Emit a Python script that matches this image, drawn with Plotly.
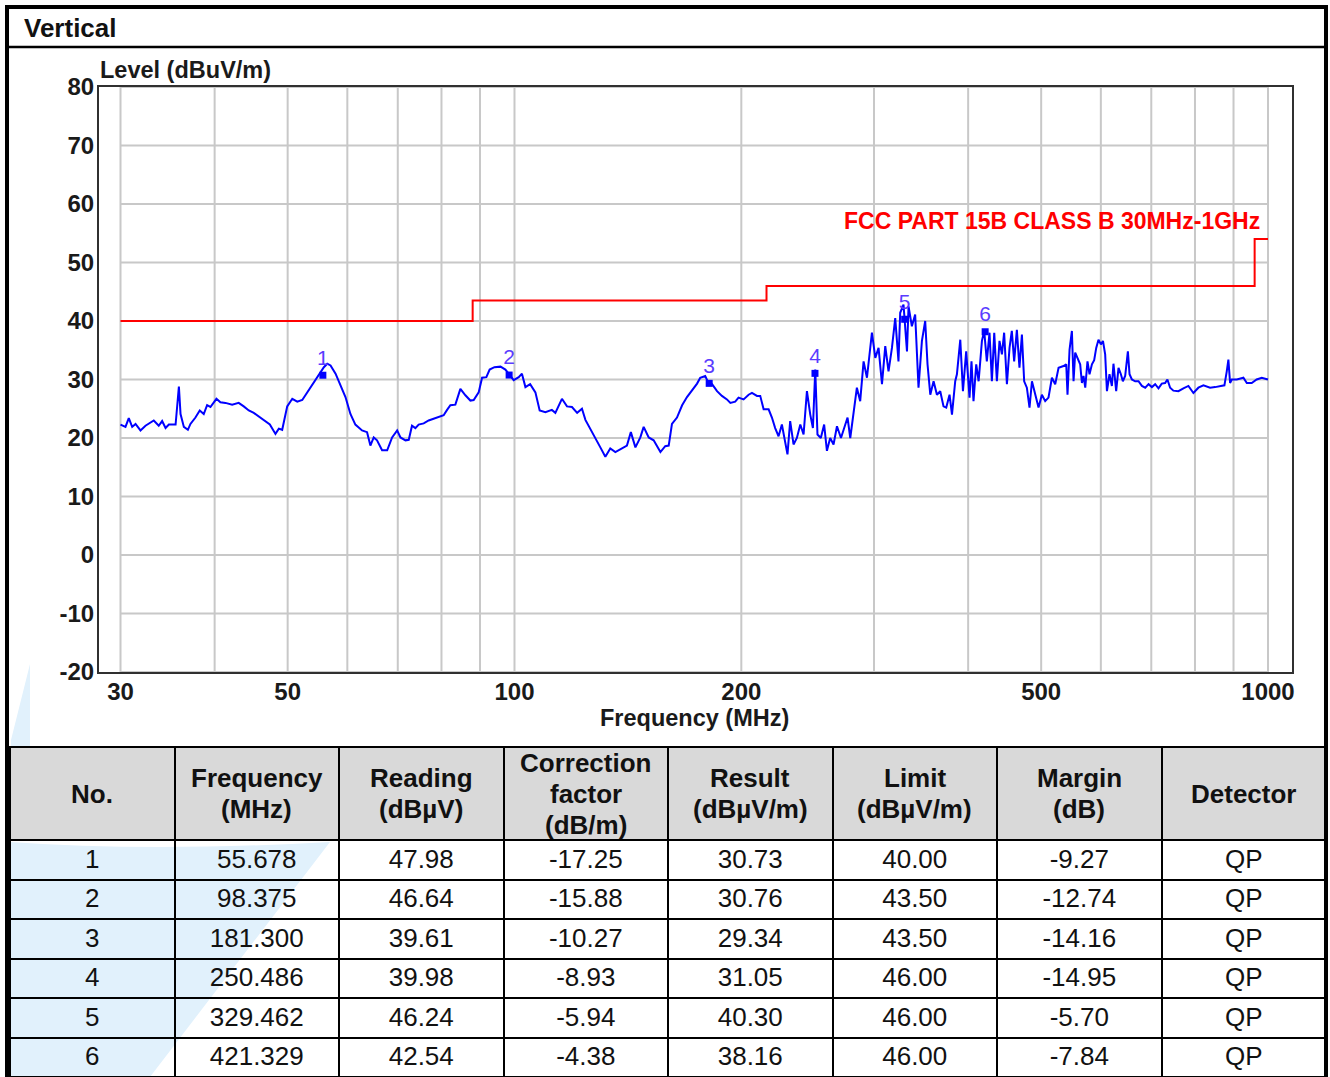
import math
import plotly.graph_objects as go

# ---------------- data ----------------
FREQ_MHZ = [
    30.0, 30.46, 30.77, 31.09, 31.41, 31.89, 32.38, 33.21, 33.72, 34.07, 34.43, 34.78, 35.50, 35.86, 36.04,
    36.41, 36.86, 37.15, 37.72, 38.22, 38.69, 39.09, 39.49, 40.22, 40.71, 41.34, 42.20, 43.05, 43.72, 44.40,
    45.08, 45.78, 46.49, 47.35, 48.17, 48.67, 49.17, 49.93, 50.71, 51.49, 52.28, 53.09, 54.16, 55.00, 55.85,
    56.43, 57.00, 57.88, 58.75, 59.66, 60.57, 61.49, 62.76, 63.73, 64.38, 65.04, 65.70, 66.72, 67.77, 68.80,
    69.87, 70.58, 71.67,
    72.39, 73.11, 73.87, 74.61, 75.77, 76.93, 78.12, 79.32, 80.54, 81.38, 82.21, 83.47, 84.76, 86.07, 87.39,
    88.28, 89.63, 90.57, 91.76, 92.69, 94.05, 95.82, 97.25, 98.24, 99.75, 101.3, 102.3, 103.4, 104.9, 106.6,
    108.0, 109.9, 112.1, 113.3, 115.6, 117.4, 119.2, 121.1, 122.9, 124.2, 126.1, 128.0, 130.0, 132.0, 134.0,
    136.1, 138.9, 141.0, 142.7, 144.7, 146.9, 148.4, 150.7, 153.0, 156.2, 158.5, 160.2, 161.8, 164.3, 166.9,
    169.4, 172.0, 174.7,
    176.4, 179.1, 180.9, 182.9, 185.7, 188.5, 191.4, 193.4, 196.3, 198.3, 201.4, 204.5, 206.6, 209.8, 211.9,
    214.1, 217.4, 219.6, 221.8, 224.1, 226.4, 228.7, 230.3, 232.2, 234.6, 237.0, 239.5, 241.9, 244.4, 246.9,
    248.9, 250.7, 252.4, 255.0, 257.6, 259.8, 262.4, 265.1, 267.9, 271.2, 274.0, 276.7, 279.0, 281.8, 284.7,
    287.6, 290.6, 293.6, 298.1, 301.2, 304.2, 307.4, 310.5, 313.6, 316.9, 320.1, 323.3, 325.0, 328.3, 331.8,
    333.4, 336.8, 340.2, 343.7, 347.3, 350.8, 353.3, 356.3, 359.9, 363.6, 367.3, 371.0, 374.1, 377.9, 380.7,
    384.5, 386.5, 390.5, 393.7, 397.6, 401.7,
    404.1, 406.6, 410.0, 413.0, 417.2, 420.1, 423.5, 427.0, 430.1, 433.2, 436.7, 440.2, 443.5, 446.5, 450.3,
    453.9, 457.1, 460.4, 464.2, 467.9, 471.4, 474.7, 478.6, 482.5, 486.1, 491.0, 496.0, 501.1, 506.2, 511.3,
    516.7, 521.9,
    527.3, 535.3, 539.8, 541.9, 545.3, 549.2, 552.0, 554.8, 558.8, 563.3, 566.3, 569.1, 572.1, 576.0, 579.6,
    583.9, 587.9, 591.6, 595.7, 600.1, 603.9, 608.0, 611.3, 616.1, 620.6, 623.6, 628.8, 633.3, 637.9, 641.8,
    646.3, 649.7, 651.7, 655.0, 659.7, 666.4, 673.2, 680.2, 687.2, 694.2, 701.3, 708.4, 715.6, 722.8, 730.2,
    735.4, 741.5, 748.9, 760.5, 772.2, 784.1, 796.2, 808.4, 820.9, 837.8, 850.7, 863.9, 875.3, 881.6, 886.0,
    890.6, 895.3, 909.0, 927.6, 937.3, 951.5, 966.0, 981.1, 1000.0,
]
LEVEL_DBUV_M = [
    22.3, 21.9, 23.4, 21.9, 22.4, 21.3, 22.1, 23.0, 22.1, 22.9, 21.7, 22.3, 22.3, 28.8, 24.1,
    21.9, 21.4, 22.4, 23.5, 24.7, 24.1, 25.6, 25.3, 26.7, 26.1, 26.0, 25.7, 26.0, 25.4, 24.7,
    24.3, 23.7, 23.0, 22.3, 20.7, 21.6, 21.4, 25.4, 26.7, 26.2, 26.5, 27.8, 29.3, 30.7, 32.1,
    32.7, 32.4, 31.0, 29.0, 27.0, 24.1, 22.3, 21.3, 21.0, 18.7, 20.1, 19.6, 17.9, 17.9, 20.1,
    21.3, 20.1, 19.6,
    19.7, 22.1, 21.7, 22.3, 22.5, 23.0, 23.3, 23.6, 23.9, 24.8, 25.6, 25.7, 28.4, 27.3, 26.4,
    26.5, 27.8, 30.3, 30.4, 31.7, 32.1, 32.2, 31.7, 31.0, 29.9, 30.4, 31.0, 28.7, 29.2, 27.8,
    24.7, 24.4, 24.8, 24.3, 26.7, 25.4, 25.3, 24.3, 25.0, 23.1, 21.6, 19.9, 18.4, 16.8, 18.2,
    17.6, 18.2, 18.7, 21.0, 18.4, 20.1, 21.9, 20.1, 19.6, 17.6, 18.6, 18.7, 22.4, 23.5, 25.6,
    27.0, 28.2, 29.3,
    30.3, 30.6, 29.4, 29.2, 28.0, 27.2, 26.6, 26.0, 26.2, 26.9, 26.6, 27.4, 27.7, 27.2, 27.2,
    24.9, 24.9, 23.5, 21.7, 20.3, 22.3, 19.5, 17.2, 22.9, 18.9, 20.0, 22.3, 20.6, 28.0, 24.0,
    21.7, 31.7, 20.6, 20.0, 22.3, 17.8, 20.0, 18.9, 22.0, 20.0, 21.7, 23.5, 20.0, 24.6, 28.6,
    26.3, 33.1, 30.3, 38.0, 33.7, 35.4, 29.2, 35.7, 31.4, 35.4, 40.5, 33.1, 41.4, 42.8, 34.8,
    42.5, 39.1, 41.1, 28.6, 36.6, 40.0, 32.6, 27.4, 29.7, 27.4, 28.0, 25.4, 25.2, 27.4, 24.0,
    29.7, 30.9, 36.8, 28.0, 34.8, 26.9,
    33.1, 26.3, 32.6, 29.7, 36.6, 38.3, 33.1, 38.0, 29.7, 38.0, 29.7, 36.6, 34.3, 38.0, 29.2,
    35.4, 38.3, 33.1, 38.5, 32.0, 37.7, 29.7, 28.6, 25.2, 29.7, 27.4, 25.2, 27.4, 26.3, 26.9,
    30.3, 29.2,
    32.0, 32.3, 32.6, 27.4, 35.1, 38.3, 29.7, 34.6, 33.7, 32.6, 29.4, 30.6, 28.6, 33.1, 30.9,
    32.6, 33.3, 35.4, 36.8, 36.0, 36.6, 34.3, 28.0, 30.9, 28.9, 32.7, 28.0, 32.0, 30.9, 29.7,
    30.6, 33.1, 34.8, 30.9, 30.0, 29.7, 29.7, 28.9, 28.6, 29.2, 28.7, 29.2, 28.5, 29.3, 29.4,
    30.0, 28.6, 28.1, 28.0, 28.5, 28.9, 27.7, 28.6, 29.0, 28.6, 28.7, 28.9, 29.0, 31.4, 33.4,
    29.4, 30.0, 30.0, 30.3, 29.4, 29.4, 30.0, 30.3, 30.0,
]
assert len(FREQ_MHZ) == len(LEVEL_DBUV_M)

LIMIT_EDGES_MHZ = [30, 88, 216, 960, 1000]
LIMIT_DBUV_M = [40, 43.5, 46, 54, 54]
LIMIT_NAME = "FCC PART 15B CLASS B 30MHz-1GHz"

X_TICKS = [30, 50, 100, 200, 500, 1000]
X_GRID = [30, 40, 50, 60, 70, 80, 90, 100, 200, 300, 400, 500, 600, 700, 800, 900, 1000]
Y_TICKS = [-20, -10, 0, 10, 20, 30, 40, 50, 60, 70, 80]

TABLE_HEADER = [["No."], ["Frequency", "(MHz)"], ["Reading", "(dBµV)"],
                ["Correction", "factor", "(dB/m)"], ["Result", "(dBµV/m)"],
                ["Limit", "(dBµV/m)"], ["Margin", "(dB)"], ["Detector"]]
COL_NO = ["1", "2", "3", "4", "5", "6"]
COL_FREQ = ["55.678", "98.375", "181.300", "250.486", "329.462", "421.329"]
COL_READING = ["47.98", "46.64", "39.61", "39.98", "46.24", "42.54"]
COL_CORR = ["-17.25", "-15.88", "-10.27", "-8.93", "-5.94", "-4.38"]
COL_RESULT = ["30.73", "30.76", "29.34", "31.05", "40.30", "38.16"]
COL_LIMIT = ["40.00", "43.50", "43.50", "46.00", "46.00", "46.00"]
COL_MARGIN = ["-9.27", "-12.74", "-14.16", "-14.95", "-5.70", "-7.84"]
COL_DETECTOR = ["QP", "QP", "QP", "QP", "QP", "QP"]

# ---------------- geometry (pixels of the 1330x1077 page) ----------------
W, H = 1330, 1077
def px(x):
    return x / W
def py(y):
    return 1 - y / H

FRAME_L, FRAME_R, FRAME_T, FRAME_B = 99, 1292, 87, 672
X_PX30, X_PX1000 = 120.5, 1268
ppd = (X_PX1000 - X_PX30) / (math.log10(1000) - math.log10(30))
XR = [math.log10(30) - (X_PX30 - FRAME_L) / ppd, 3 + (FRAME_R - X_PX1000) / ppd]

TICK_FONT = dict(family="Arial", size=24, color="#1a1a1a", weight="bold")
TITLE_FONT = dict(family="Arial", size=23.5, color="#1a1a1a")
TABLE_TOP, HEADER_H, ROW_H = 747, 93, 39.5
BLUE_WM = "#e1f1fc"

fig = go.Figure()

# grid (only inside 30 MHz .. 1 GHz)
gx, gy = [], []
for f in X_GRID:
    gx += [f, f, None]
    gy += [Y_TICKS[0], Y_TICKS[-1], None]
for v in Y_TICKS:
    gx += [X_GRID[0], X_GRID[-1], None]
    gy += [v, v, None]
fig.add_trace(go.Scatter(x=gx, y=gy, mode="lines", line=dict(color="#c8c8c8", width=2),
                         hoverinfo="skip", showlegend=False))

# limit line
fig.add_trace(go.Scatter(x=LIMIT_EDGES_MHZ, y=LIMIT_DBUV_M, mode="lines", line_shape="hv",
                         line=dict(color="#ff0000", width=2), showlegend=False, hoverinfo="skip"))

# measured trace
fig.add_trace(go.Scatter(x=FREQ_MHZ, y=LEVEL_DBUV_M, mode="lines",
                         line=dict(color="#0000ff", width=2), showlegend=False))

# markers
fig.add_trace(go.Scatter(x=[float(f) for f in COL_FREQ], y=[float(r) for r in COL_RESULT],
                         mode="markers+text", text=COL_NO, textposition="top center",
                         textfont=dict(family="Arial", size=21, color="#5a3cff"),
                         marker=dict(symbol="square", size=7, color="#0000ff"),
                         showlegend=False, cliponaxis=False))

# table
col_w = (1326 - 10) / 8
fig.add_trace(go.Table(
    domain=dict(x=[px(10), px(1326)], y=[0, py(TABLE_TOP)]),
    columnwidth=[1] * 8,
    header=dict(values=[""] * 8, height=HEADER_H, fill_color="#d9d9d9",
                line=dict(color="black", width=2)),
    cells=dict(values=[COL_NO, COL_FREQ, COL_READING, COL_CORR, COL_RESULT, COL_LIMIT,
                       COL_MARGIN, COL_DETECTOR],
               height=ROW_H, align="center", fill_color="rgba(0,0,0,0)",
               line=dict(color="black", width=2),
               font=dict(family="Arial", size=26, color="#111111")),
))

annotations = []
# header texts: each line placed separately so the line spacing matches
hc = TABLE_TOP + HEADER_H / 2
for i, lines in enumerate(TABLE_HEADER):
    k = len(lines)
    for j, line in enumerate(lines):
        yc = hc + (j - (k - 1) / 2) * 31
        annotations.append(dict(x=px(10 + (i + 0.5) * col_w), y=py(yc), xref="paper", yref="paper",
                                text="<b>" + line + "</b>", showarrow=False, xanchor="center",
                                yanchor="middle", font=dict(family="Arial", size=26, color="#111111")))
annotations += [
    dict(x=px(22), y=py(28), xref="paper", yref="paper", text="<b>Vertical</b>", showarrow=False,
         xanchor="left", yanchor="middle", font=dict(family="Arial", size=26, color="#111111")),
    dict(x=px(98), y=py(70), xref="paper", yref="paper", text="<b>Level (dBuV/m)</b>",
         showarrow=False, xanchor="left", yanchor="middle", font=TITLE_FONT),
    dict(x=px(694), y=py(718), xref="paper", yref="paper", text="<b>Frequency (MHz)</b>",
         showarrow=False, xanchor="center", yanchor="middle", font=TITLE_FONT),
    dict(x=math.log10(LIMIT_EDGES_MHZ[-1]), y=LIMIT_DBUV_M[-1], xref="x", yref="y",
         text="<b>" + LIMIT_NAME + "</b>", showarrow=False, xanchor="right", yanchor="bottom",
         xshift=-6, yshift=3, font=dict(family="Arial", size=23, color="#ff0000")),
]

def poly(pts):
    return "M " + " L ".join(f"{px(x)},{py(y)}" for x, y in pts) + " Z"

shapes = [
    # light-blue watermark pieces
    dict(type="path", xref="paper", yref="paper", layer="below", line=dict(width=0),
         fillcolor=BLUE_WM, path=poly([(30, 664), (30, 747), (11, 747), (11, 740)])),
    dict(type="path", xref="paper", yref="paper", layer="below", line=dict(width=0),
         fillcolor=BLUE_WM,
         path=f"M {px(10)},{py(1077)} L {px(10)},{py(842)} Q {px(150)},{py(852)} {px(330)},{py(842)} "
              f"L {px(150)},{py(1077)} Z"),
    # outer frame and title divider
    dict(type="rect", xref="paper", yref="paper", x0=px(7), x1=px(1326), y0=py(7), y1=py(1100),
         line=dict(color="black", width=4), fillcolor="rgba(0,0,0,0)"),
    dict(type="line", xref="paper", yref="paper", x0=px(7), x1=px(1326), y0=py(47), y1=py(47),
         line=dict(color="black", width=2.5)),
]

fig.update_layout(
    template="none",
    width=W, height=H, margin=dict(l=0, r=0, t=0, b=0, pad=0, autoexpand=False),
    paper_bgcolor="white", plot_bgcolor="white", showlegend=False,
    xaxis=dict(type="log", range=XR, domain=[px(FRAME_L), px(FRAME_R)], automargin=False,
               tickvals=X_TICKS, ticktext=[str(t) for t in X_TICKS], showgrid=False, zeroline=False,
               showline=True, mirror=True, linecolor="#303030", linewidth=2,
               ticks="", tickfont=TICK_FONT, ticklabelstandoff=-3),
    yaxis=dict(range=[-20, 80], domain=[py(FRAME_B), py(FRAME_T)], automargin=False,
               tickvals=Y_TICKS, ticktext=[str(t) for t in Y_TICKS],
               showgrid=False, zeroline=False, showline=True, mirror=True,
               linecolor="#303030", linewidth=2, ticks="", tickfont=TICK_FONT,
               ticklabelstandoff=-2),
    annotations=annotations, shapes=shapes,
)

fig.write_html("out.html", config={"displayModeBar": False},
               post_script="document.body.style.margin='0';")
